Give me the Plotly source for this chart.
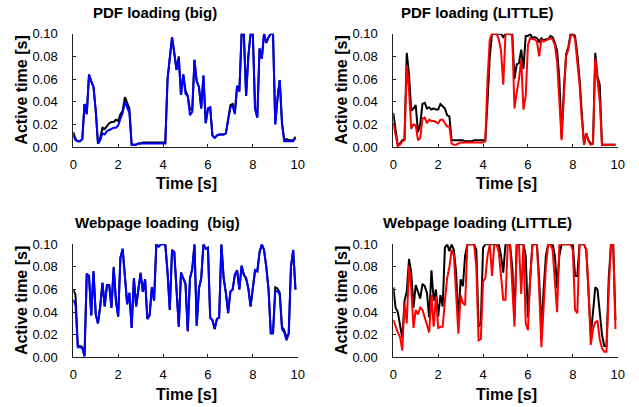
import plotly.graph_objects as go

# ---------------- data ----------------
time_s = [0.0, 0.1, 0.2, 0.3, 0.4, 0.5, 0.6, 0.7, 0.8, 0.9,
          1.0, 1.1, 1.2, 1.3, 1.4, 1.5, 1.6, 1.7, 1.8, 1.9,
          2.0, 2.1, 2.2, 2.3, 2.4, 2.5, 2.6, 2.7, 2.8, 2.9,
          3.0, 3.1, 3.2, 3.3, 3.4, 3.5, 3.6, 3.7, 3.8, 3.9,
          4.0, 4.1, 4.2, 4.3, 4.4, 4.5, 4.6, 4.7, 4.8, 4.9,
          5.0, 5.1, 5.2, 5.3, 5.4, 5.5, 5.6, 5.7, 5.8, 5.9,
          6.0, 6.1, 6.2, 6.3, 6.4, 6.5, 6.6, 6.7, 6.8, 6.9,
          7.0, 7.1, 7.2, 7.3, 7.4, 7.5, 7.6, 7.7, 7.8, 7.9,
          8.0, 8.1, 8.2, 8.3, 8.4, 8.5, 8.6, 8.7, 8.8, 8.9,
          9.0, 9.1, 9.2, 9.3, 9.4, 9.5, 9.6, 9.7, 9.8, 9.9]

pdf_big_black = [0.013, 0.007, 0.005, 0.005, 0.007, 0.038, 0.029, 0.064, 0.058, 0.053,
                 0.032, 0.003, 0.008, 0.017, 0.016, 0.019, 0.021, 0.022, 0.022, 0.024,
                 0.023, 0.029, 0.032, 0.044, 0.038, 0.034, 0.002, 0.002, 0.002, 0.003,
                 0.003, 0.004, 0.004, 0.004, 0.004, 0.004, 0.004, 0.004, 0.004, 0.004,
                 0.004, 0.004, 0.060, 0.080, 0.097, 0.083, 0.068, 0.080, 0.046, 0.064,
                 0.050, 0.045, 0.033, 0.033, 0.077, 0.058, 0.053, 0.034, 0.063, 0.021,
                 0.034, 0.035, 0.010, 0.008, 0.010, 0.011, 0.011, 0.011, 0.012, 0.025,
                 0.037, 0.038, 0.031, 0.054, 0.049, 0.100, 0.100, 0.045, 0.080, 0.100,
                 0.100, 0.034, 0.026, 0.087, 0.078, 0.100, 0.092, 0.097, 0.100, 0.100,
                 0.020, 0.043, 0.059, 0.022, 0.006, 0.007, 0.006, 0.006, 0.006, 0.009]
pdf_big_blue = [0.010, 0.006, 0.005, 0.005, 0.007, 0.038, 0.029, 0.064, 0.058, 0.053,
                0.032, 0.003, 0.006, 0.012, 0.011, 0.014, 0.015, 0.016, 0.017, 0.017,
                0.019, 0.025, 0.030, 0.040, 0.035, 0.030, 0.002, 0.002, 0.002, 0.003,
                0.003, 0.003, 0.003, 0.003, 0.003, 0.003, 0.003, 0.003, 0.003, 0.003,
                0.003, 0.003, 0.060, 0.080, 0.097, 0.083, 0.068, 0.078, 0.046, 0.064,
                0.047, 0.045, 0.028, 0.031, 0.077, 0.058, 0.053, 0.034, 0.063, 0.021,
                0.034, 0.035, 0.010, 0.008, 0.010, 0.011, 0.011, 0.011, 0.012, 0.023,
                0.035, 0.036, 0.029, 0.054, 0.049, 0.100, 0.100, 0.045, 0.080, 0.100,
                0.100, 0.034, 0.026, 0.087, 0.078, 0.100, 0.092, 0.097, 0.100, 0.100,
                0.020, 0.043, 0.059, 0.020, 0.005, 0.005, 0.005, 0.005, 0.005, 0.008]

pdf_little_black = [0.030, 0.015, 0.001, 0.003, 0.006, 0.007, 0.083, 0.064, 0.032, 0.034,
                    0.037, 0.013, 0.020, 0.038, 0.039, 0.034, 0.035, 0.033, 0.034, 0.033,
                    0.033, 0.038, 0.036, 0.034, 0.028, 0.027, 0.006, 0.006, 0.006, 0.006,
                    0.006, 0.006, 0.005, 0.005, 0.005, 0.005, 0.006, 0.006, 0.006, 0.006,
                    0.006, 0.006, 0.040, 0.080, 0.100, 0.100, 0.100, 0.100, 0.100, 0.097,
                    0.100, 0.100, 0.100, 0.100, 0.060, 0.073, 0.074, 0.086, 0.069, 0.098,
                    0.098, 0.100, 0.096, 0.097, 0.096, 0.093, 0.096, 0.094, 0.095, 0.095,
                    0.098, 0.097, 0.092, 0.085, 0.060, 0.008, 0.050, 0.082, 0.088, 0.100,
                    0.100, 0.098, 0.082, 0.060, 0.030, 0.002, 0.012, 0.006, 0.003, 0.003,
                    0.083, 0.062, 0.055, 0.002, 0.002, 0.002, 0.002, 0.002, 0.002, 0.002]
pdf_little_red = [0.021, 0.010, 0.001, 0.002, 0.005, 0.006, 0.072, 0.050, 0.016, 0.020,
                  0.019, 0.006, 0.008, 0.025, 0.026, 0.021, 0.024, 0.023, 0.023, 0.022,
                  0.021, 0.024, 0.024, 0.021, 0.018, 0.018, 0.003, 0.002, 0.002, 0.003,
                  0.004, 0.004, 0.004, 0.004, 0.004, 0.004, 0.004, 0.004, 0.004, 0.004,
                  0.004, 0.005, 0.060, 0.095, 0.100, 0.100, 0.100, 0.095, 0.085, 0.055,
                  0.100, 0.100, 0.100, 0.098, 0.034, 0.048, 0.060, 0.077, 0.033, 0.045,
                  0.090, 0.096, 0.095, 0.095, 0.093, 0.080, 0.095, 0.093, 0.094, 0.095,
                  0.096, 0.095, 0.090, 0.075, 0.045, 0.006, 0.045, 0.080, 0.086, 0.098,
                  0.100, 0.095, 0.075, 0.055, 0.025, 0.002, 0.012, 0.005, 0.002, 0.003,
                  0.078, 0.058, 0.040, 0.002, 0.002, 0.002, 0.002, 0.002, 0.002, 0.002]

web_big_black = [0.060, 0.055, 0.010, 0.010, 0.009, 0.001, 0.074, 0.072, 0.037, 0.076,
                 0.038, 0.030, 0.045, 0.066, 0.045, 0.064, 0.064, 0.044, 0.080, 0.050,
                 0.036, 0.088, 0.096, 0.070, 0.047, 0.057, 0.026, 0.070, 0.045, 0.060,
                 0.075, 0.058, 0.069, 0.034, 0.037, 0.062, 0.050, 0.100, 0.098, 0.100,
                 0.100, 0.100, 0.075, 0.042, 0.095, 0.093, 0.060, 0.027, 0.075, 0.070,
                 0.065, 0.023, 0.070, 0.078, 0.100, 0.028, 0.061, 0.070, 0.100, 0.096,
                 0.097, 0.035, 0.033, 0.025, 0.034, 0.035, 0.100, 0.070, 0.057, 0.039,
                 0.058, 0.060, 0.073, 0.077, 0.060, 0.081, 0.073, 0.070, 0.061, 0.045,
                 0.060, 0.077, 0.076, 0.093, 0.100, 0.095, 0.080, 0.060, 0.022, 0.022,
                 0.062, 0.061, 0.057, 0.027, 0.024, 0.017, 0.021, 0.080, 0.095, 0.060]
web_big_blue = [0.051, 0.046, 0.009, 0.009, 0.008, 0.001, 0.074, 0.072, 0.037, 0.076,
                0.038, 0.030, 0.045, 0.066, 0.045, 0.064, 0.064, 0.044, 0.079, 0.050,
                0.036, 0.088, 0.096, 0.070, 0.047, 0.057, 0.026, 0.070, 0.045, 0.060,
                0.074, 0.058, 0.069, 0.034, 0.037, 0.062, 0.050, 0.100, 0.098, 0.100,
                0.100, 0.100, 0.075, 0.042, 0.095, 0.093, 0.060, 0.027, 0.075, 0.070,
                0.065, 0.023, 0.070, 0.078, 0.100, 0.028, 0.061, 0.070, 0.100, 0.096,
                0.097, 0.035, 0.033, 0.025, 0.034, 0.035, 0.100, 0.070, 0.057, 0.039,
                0.058, 0.060, 0.073, 0.077, 0.060, 0.081, 0.073, 0.070, 0.061, 0.045,
                0.060, 0.077, 0.076, 0.093, 0.100, 0.095, 0.080, 0.060, 0.021, 0.021,
                0.058, 0.059, 0.055, 0.025, 0.022, 0.015, 0.021, 0.080, 0.095, 0.060]

web_little_black = [0.062, 0.044, 0.040, 0.030, 0.017, 0.050, 0.058, 0.087, 0.075, 0.044,
                    0.064, 0.058, 0.052, 0.065, 0.063, 0.057, 0.035, 0.077, 0.050, 0.060,
                    0.036, 0.055, 0.045, 0.097, 0.100, 0.094, 0.100, 0.095, 0.075, 0.032,
                    0.069, 0.063, 0.090, 0.100, 0.100, 0.100, 0.100, 0.095, 0.027, 0.030,
                    0.097, 0.100, 0.100, 0.100, 0.100, 0.100, 0.100, 0.100, 0.090, 0.075,
                    0.100, 0.100, 0.100, 0.080, 0.035, 0.100, 0.100, 0.100, 0.100, 0.090,
                    0.035, 0.070, 0.100, 0.100, 0.100, 0.070, 0.025, 0.060, 0.090, 0.100,
                    0.100, 0.100, 0.090, 0.061, 0.090, 0.100, 0.100, 0.100, 0.100, 0.100,
                    0.100, 0.072, 0.072, 0.100, 0.100, 0.100, 0.095, 0.060, 0.020, 0.040,
                    0.062, 0.060, 0.040, 0.020, 0.010, 0.010, 0.070, 0.100, 0.100, 0.033]
web_little_red = [0.033, 0.027, 0.022, 0.018, 0.006, 0.048, 0.030, 0.081, 0.060, 0.026,
                  0.042, 0.038, 0.044, 0.042, 0.036, 0.030, 0.022, 0.055, 0.027, 0.054,
                  0.026, 0.027, 0.027, 0.050, 0.070, 0.080, 0.095, 0.090, 0.060, 0.021,
                  0.055, 0.048, 0.046, 0.100, 0.100, 0.100, 0.100, 0.080, 0.015, 0.016,
                  0.067, 0.070, 0.090, 0.100, 0.072, 0.100, 0.100, 0.093, 0.070, 0.051,
                  0.051, 0.100, 0.100, 0.060, 0.027, 0.100, 0.100, 0.056, 0.100, 0.030,
                  0.024, 0.070, 0.100, 0.100, 0.100, 0.060, 0.009, 0.045, 0.080, 0.100,
                  0.100, 0.095, 0.070, 0.040, 0.100, 0.100, 0.100, 0.100, 0.100, 0.100,
                  0.095, 0.042, 0.039, 0.100, 0.100, 0.100, 0.095, 0.060, 0.011, 0.025,
                  0.031, 0.032, 0.016, 0.008, 0.005, 0.005, 0.060, 0.100, 0.100, 0.025]

panel_titles = ["PDF loading (big)", "PDF loading (LITTLE)",
                "Webpage loading  (big)", "Webpage loading (LITTLE)"]
x_ticks = [0, 2, 4, 6, 8, 10]
y_ticks = [0.00, 0.02, 0.04, 0.06, 0.08, 0.10]
y_tick_text = ["0.00", "0.02", "0.04", "0.06", "0.08", "0.10"]
x_label = "Time [s]"
y_label = "Active time [s]"

# ---------------- layout ----------------
W, H = 639, 407
FONT = "Arial, 'Liberation Sans', sans-serif"

def px_x(p):
    return p / W

def px_y(p):
    return 1 - p / H

# plot areas in pixels: (x0, x1, ytop, ybottom)
areas = [(73.3, 297.7, 33.7, 147.0),
         (393.3, 617.7, 33.7, 147.0),
         (73.3, 297.7, 244.3, 357.3),
         (393.3, 617.7, 244.3, 357.3)]
series = [(pdf_big_black, pdf_big_blue, "#0000FF"),
          (pdf_little_black, pdf_little_red, "#FF0000"),
          (web_big_black, web_big_blue, "#0000FF"),
          (web_little_black, web_little_red, "#FF0000")]
title_pos = [(155, 13), (477, 13), (157, 222.5), (477, 222.5)]

fig = go.Figure()
annotations = []
layout = dict(width=W, height=H, autosize=False, margin=dict(l=0, r=0, t=0, b=0, pad=0),
              paper_bgcolor="white", plot_bgcolor="white", showlegend=False,
              font=dict(family=FONT, size=13, color="black"))

for i, ((x0, x1, yt, yb), (kser, cser, col)) in enumerate(zip(areas, series)):
    n = "" if i == 0 else str(i + 1)
    xa, ya = "x" + n, "y" + n
    fig.add_trace(go.Scatter(x=time_s, y=kser, mode="lines", xaxis=xa, yaxis=ya,
                             line=dict(color="black", width=2), hoverinfo="skip"))
    fig.add_trace(go.Scatter(x=time_s, y=cser, mode="lines", xaxis=xa, yaxis=ya,
                             line=dict(color=col, width=2), hoverinfo="skip"))
    axis_common = dict(showline=True, linecolor="#222222", linewidth=1,
                       ticks="inside", ticklen=3, tickcolor="#222222", tickwidth=1,
                       showgrid=False, zeroline=False, fixedrange=True, automargin=False,
                       tickfont=dict(family=FONT, size=13, color="black"))
    layout["xaxis" + n] = dict(domain=[px_x(x0), px_x(x1)], anchor=ya,
                               range=[0, 10], tickvals=x_ticks,
                               ticklabelstandoff=5, **axis_common)
    layout["yaxis" + n] = dict(domain=[px_y(yb), px_y(yt)], anchor=xa,
                               range=[0, 0.1], tickvals=y_ticks, ticktext=y_tick_text,
                               ticklabelstandoff=12, **axis_common)
    cx = (x0 + x1) / 2
    cy = (yt + yb) / 2
    tx, ty = title_pos[i]
    annotations.append(dict(text="<b>" + panel_titles[i] + "</b>", x=px_x(tx), y=px_y(ty),
                            xref="paper", yref="paper", showarrow=False,
                            xanchor="center", yanchor="middle",
                            font=dict(family=FONT, size=15, color="black")))
    annotations.append(dict(text="<b>" + x_label + "</b>", x=px_x(cx + 0.5), y=px_y(yb + 37),
                            xref="paper", yref="paper", showarrow=False,
                            xanchor="center", yanchor="middle",
                            font=dict(family=FONT, size=16, color="black")))
    annotations.append(dict(text="<b>" + y_label + "</b>", x=px_x(x0 - 52), y=px_y(cy),
                            xref="paper", yref="paper", showarrow=False, textangle=-90,
                            xanchor="center", yanchor="middle",
                            font=dict(family=FONT, size=16, color="black")))

layout["annotations"] = annotations
fig.update_layout(**layout)
fig.write_html("out.html", config={"responsive": False, "displayModeBar": False},
               post_script="document.body.style.margin='0';document.body.style.padding='0';"
                           "document.body.style.overflow='hidden';")
